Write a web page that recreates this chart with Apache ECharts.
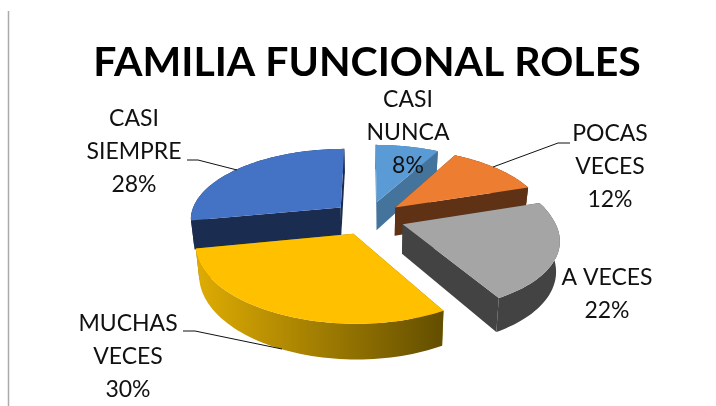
<!DOCTYPE html>
<html>
<head>
<meta charset="utf-8">
<style>
  html, body { margin: 0; padding: 0; background: #fff; }
  #chart { width: 716px; height: 406px; }
</style>
<script src="https://cdn.jsdelivr.net/npm/echarts@6/dist/echarts.min.js"></script>
</head>
<body>
<div id="chart"></div>
<script>
var categories = ['CASI NUNCA', 'POCAS VECES', 'A VECES', 'MUCHAS VECES', 'CASI SIEMPRE'];
var values = [8, 12, 22, 30, 28];
var topColors = ['#5B9BD5', '#ED7D31', '#A5A5A5', '#FFC000', '#4472C4'];
var wallColors = ['#44739C', '#5F3115', '#434343', '#8A6C00', '#1A2C50'];
// back to front
var drawOrder = [1, 2, 3, 4, 0];

// fake 3d: tilted disc with some perspective, same look as the office chart
var CX = 368, CY = 218, AX = 151, AY = 70.6, PERSP = 0.154, DEPTH = 29, EXPLODE = 0.24, FRONT_SHEAR = 6;

var total = values.reduce(function (a, b) { return a + b; }, 0);

function project(u, v, low) {
    var f = 1 / (1 + PERSP * v);
    var x = AX * u * f;
    var y = CY - AY * v * f;
    if (low) {
        x *= 0.98;
        y += DEPTH * f;
    }
    // the front half of the original leans a little to the right
    if (v < 0) x -= FRONT_SHEAR * v;
    return [CX + x, y];
}

function sliceAngles(i) {
    var before = 0;
    for (var k = 0; k < i; k++) before += values[k];
    return [before / total * Math.PI * 2, (before + values[i]) / total * Math.PI * 2];
}

function renderSlice(params, api) {
    var i = params.dataIndex;
    var ang = sliceAngles(i);
    var mid = (ang[0] + ang[1]) / 2;
    var ox = EXPLODE * Math.sin(mid), oy = EXPLODE * Math.cos(mid);
    var top = [], low = [];
    for (var s = 0; s <= 60; s++) {
        var a = ang[0] + (ang[1] - ang[0]) * s / 60;
        var u = ox + Math.sin(a), v = oy + Math.cos(a);
        top.push(project(u, v, false));
        low.push(project(u, v, true));
    }
    var tipTop = project(ox, oy, false), tipLow = project(ox, oy, true);
    var wall = wallColors[i];
    var arcFill = wall;
    if (categories[i] === 'MUCHAS VECES') {
        arcFill = new echarts.graphic.LinearGradient(0, 0, 1, 0, [
            { offset: 0, color: '#DFAC03' },
            { offset: 1, color: '#634E00' }
        ]);
    }
    var z = drawOrder[i] * 10;
    var last = top.length - 1;
    return {
        type: 'group',
        children: [
            { type: 'polygon', z2: z, shape: { points: [tipTop, top[0], low[0], tipLow] }, style: { fill: wall } },
            { type: 'polygon', z2: z, shape: { points: [tipTop, top[last], low[last], tipLow] }, style: { fill: wall } },
            { type: 'polygon', z2: z + 1, shape: { points: top.concat(low.slice().reverse()) }, style: { fill: arcFill } },
            { type: 'polygon', z2: z + 2, shape: { points: [tipTop].concat(top) }, style: { fill: topColors[i] } }
        ]
    };
}

function labelText(i) {
    var name = categories[i];
    var lines = name === 'A VECES' ? [name] : name.split(' ');
    return lines.concat(values[i] + '%').join('\n');
}

// label centres and leader lines, in pixels
var labelLayout = [
    { x: 408, y: 133 },
    { x: 610, y: 167 },
    { x: 607, y: 294 },
    { x: 128, y: 357 },
    { x: 134, y: 152 }
];
var leaderLines = [
    [[187, 160], [198, 160], [237, 170]],
    [[493, 167], [558, 143], [570, 143]],
    [[183, 331], [195, 331], [282, 349]]
];

var graphics = [
    { type: 'line', shape: { x1: 8.5, y1: 11, x2: 8.5, y2: 406 }, style: { stroke: '#ABABAB', lineWidth: 1.5 } }
];
leaderLines.forEach(function (pts) {
    graphics.push({ type: 'polyline', z: 5, shape: { points: pts }, style: { fill: null, stroke: '#111', lineWidth: 1 } });
});
categories.forEach(function (c, i) {
    graphics.push({
        type: 'text', z: 6, x: labelLayout[i].x, y: labelLayout[i].y,
        style: {
            text: labelText(i), fill: '#111', font: '23px Lato',
            align: 'center', verticalAlign: 'middle', lineHeight: 33
        }
    });
});

var chart = echarts.init(document.getElementById('chart'), null, { renderer: 'canvas' });
chart.setOption({
    animation: false,
    backgroundColor: '#fff',
    title: {
        text: 'FAMILIA FUNCIONAL ROLES',
        left: 362, top: 37, textAlign: 'center',
        textStyle: { fontFamily: 'Lato', fontWeight: 'bold', fontSize: 41, color: '#000' }
    },
    graphic: graphics,
    series: [{
        type: 'custom',
        coordinateSystem: 'none',
        renderItem: renderSlice,
        data: values.map(function (v, i) { return { name: categories[i], value: [v] }; }),
        silent: true
    }]
});
window.addEventListener('resize', function () { chart.resize(); });
</script>
</body>
</html>
